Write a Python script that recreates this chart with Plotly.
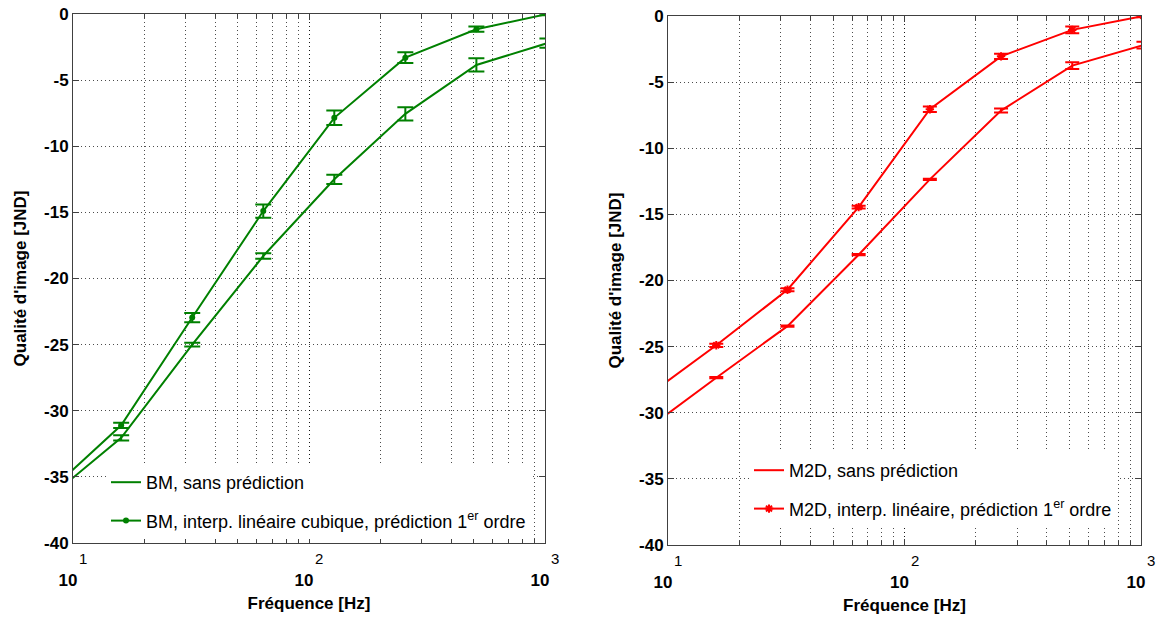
import math

import plotly.graph_objects as go

# Frequencies (Hz) of the measured points
freq = [8, 16, 32, 64, 128, 256, 512, 1024]

# BM (left panel)
bm_sans = [-36.5, -32.05, -25.0, -18.3, -12.5, -7.55, -3.85, -2.2]
bm_sans_err = [0.2, 0.2, 0.15, 0.2, 0.35, 0.5, 0.5, 0.35]
bm_pred = [-36.05, -31.1, -22.95, -14.9, -7.85, -3.3, -1.15, 0.0]
bm_pred_err = [0.2, 0.2, 0.35, 0.5, 0.55, 0.4, 0.2, 0.1]

# M2D (right panel)
m2d_sans = [-31.35, -27.35, -23.45, -18.05, -12.35, -7.15, -3.75, -2.2]
m2d_sans_err = [0.05, 0.05, 0.05, 0.05, 0.05, 0.15, 0.25, 0.25]
m2d_pred = [-28.85, -24.9, -20.7, -14.45, -7.05, -3.05, -1.05, 0.0]
m2d_pred_err = [0.1, 0.12, 0.12, 0.1, 0.2, 0.2, 0.25, 0.1]

# Axis ticks
y_ticks = list(range(-40, 1, 5))
y_labels = [str(v) for v in y_ticks]
x_ticks = [10, 100, 1000]
x_labels = ['10', '10', '10']
x_exps = ['1', '2', '3']

GREEN = 'rgb(0,128,0)'
RED = 'rgb(255,0,0)'
FONT = 'Liberation Sans, Arial, sans-serif'

W, H = 1157, 621
ML, MR, MT, MB = 73, 16, 14, 76


def px_x(p):
    # pixel -> paper fraction
    return (p - ML) / (W - ML - MR)


def px_y(p):
    return (H - MB - p) / (H - MT - MB)


fig = go.Figure()

# left panel
fig.add_trace(go.Scatter(
    x=freq, y=bm_sans, mode='lines', name='BM, sans prédiction',
    line=dict(color=GREEN, width=2),
    error_y=dict(type='data', array=bm_sans_err, color=GREEN, thickness=2, width=8),
    xaxis='x', yaxis='y', legend='legend', legendgroup='a'))
fig.add_trace(go.Scatter(
    x=freq, y=bm_pred, mode='lines+markers',
    name='BM, interp. linéaire cubique, prédiction 1<sup>er</sup> ordre',
    line=dict(color=GREEN, width=2),
    marker=dict(symbol='circle', size=6, color=GREEN),
    error_y=dict(type='data', array=bm_pred_err, color=GREEN, thickness=2, width=8),
    xaxis='x', yaxis='y', legend='legend', legendgroup='b'))

# right panel
fig.add_trace(go.Scatter(
    x=freq, y=m2d_sans, mode='lines', name='M2D, sans prédiction',
    line=dict(color=RED, width=2),
    error_y=dict(type='data', array=m2d_sans_err, color=RED, thickness=2, width=7),
    xaxis='x2', yaxis='y2', legend='legend2', legendgroup='c'))
fig.add_trace(go.Scatter(
    x=freq, y=m2d_pred, mode='lines+markers',
    name='M2D, interp. linéaire, prédiction 1<sup>er</sup> ordre',
    line=dict(color=RED, width=2),
    marker=dict(symbol='asterisk-open', size=7, color=RED, line=dict(color=RED, width=2)),
    error_y=dict(type='data', array=m2d_pred_err, color=RED, thickness=2, width=7),
    xaxis='x2', yaxis='y2', legend='legend2', legendgroup='d'))

grid = dict(showgrid=True, gridcolor='rgba(0,0,0,0.7)', gridwidth=1, griddash='1px,3px')

xcommon = dict(
    type='log', range=[1, 3], tickmode='array', tickvals=x_ticks, ticktext=x_labels,
    ticks='inside', ticklen=6, tickcolor='#404040', showline=True, linecolor='#404040',
    linewidth=1, mirror='allticks', zeroline=False, automargin=False,
    tickfont=dict(family=FONT, size=17, color='black', weight='bold'),
    ticklabelstandoff=22, ticklabelshift=-5, ticklabeloverflow='allow',
    minor=dict(dtick='D1', ticks='inside', ticklen=4, tickcolor='#404040',
               showgrid=True, gridcolor='rgba(0,0,0,0.7)', gridwidth=1, griddash='1px,3px'),
    title=dict(text='Fréquence [Hz]', font=dict(family=FONT, size=17, color='black', weight='bold'),
               standoff=7),
    **grid)

ycommon = dict(
    range=[-40, 0], tickmode='array', tickvals=y_ticks, ticktext=y_labels,
    ticks='inside', ticklen=6, tickcolor='#404040', showline=True, linecolor='#404040',
    linewidth=1, mirror='allticks', zeroline=False, automargin=False,
    ticklabeloverflow='allow',
    tickfont=dict(family=FONT, size=17, color='black', weight='bold'),
    title=dict(text="Qualité d'image [JND]", font=dict(family=FONT, size=17, color='black', weight='bold'),
               standoff=13),
    **grid)

legcommon = dict(
    xanchor='left', yanchor='top', bgcolor='white', borderwidth=0,
    font=dict(family=FONT, size=18, color='black'), traceorder='grouped', tracegroupgap=12)

fig.update_layout(
    width=W, height=H, margin=dict(l=ML, r=MR, t=MT, b=MB, autoexpand=False),
    paper_bgcolor='white', plot_bgcolor='white',
    xaxis=dict(domain=[0, px_x(545)], anchor='y', **xcommon),
    yaxis=dict(domain=[px_y(543), 1], anchor='x', **ycommon),
    xaxis2=dict(domain=[px_x(668), 1], anchor='y2', **xcommon),
    yaxis2=dict(domain=[0, px_y(16)], anchor='x2', **ycommon),
    legend=dict(x=px_x(106), y=px_y(464), **legcommon),
    legend2=dict(x=px_x(749), y=px_y(452), **legcommon),
)

# exponents of the decade tick labels
for xa in ['x', 'x2']:
    for t, e in zip(x_ticks, x_exps):
        fig.add_annotation(
            x=math.log10(t), y=0, xref=xa, yref=xa.replace('x', 'y') + ' domain',
            text=e, showarrow=False, xanchor='center', yanchor='middle',
            xshift=10, yshift=-15, font=dict(family=FONT, size=15, color='black'))

# drop the default 8px body margin so the figure fills the window exactly
fig.write_html("out.html", config={'displayModeBar': False},
               post_script="document.body.style.margin='0';")
